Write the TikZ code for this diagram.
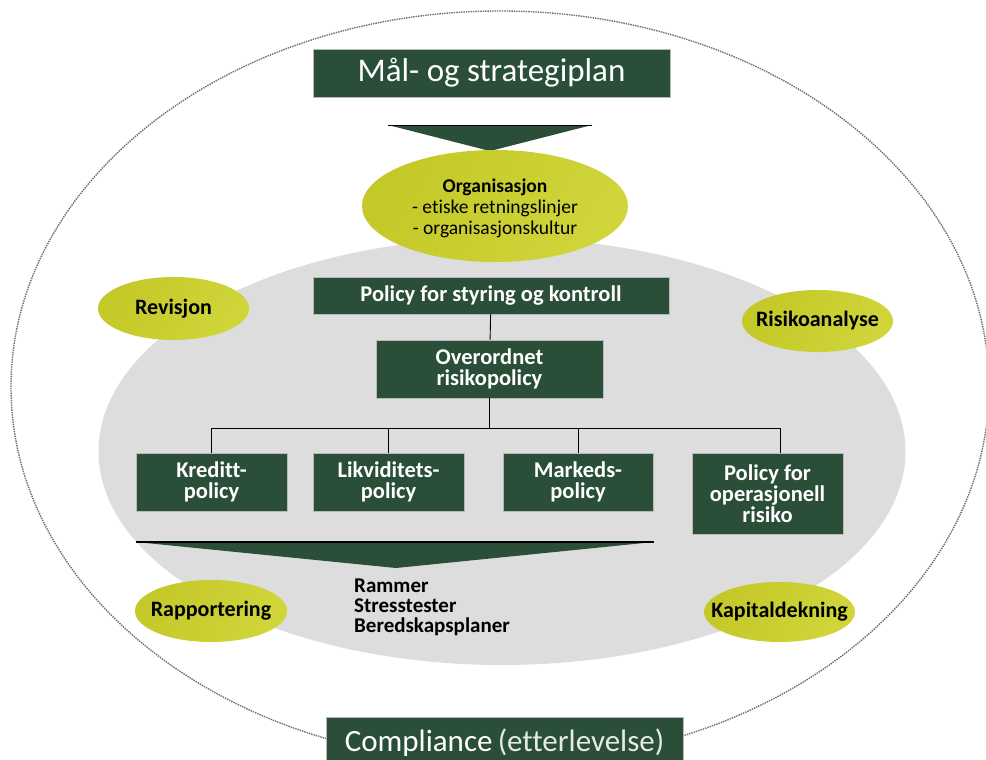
\documentclass[tikz,border=0pt]{standalone}
\usepackage{fontspec}
\setmainfont{Carlito}[Ligatures=NoCommon]
\usetikzlibrary{shapes.geometric}
\definecolor{dkgreen}{RGB}{42,78,56}
\definecolor{lgreenA}{RGB}{196,200,40}
\definecolor{lgreenB}{RGB}{208,213,58}
\definecolor{bggray}{RGB}{221,221,221}
\definecolor{rimgray}{RGB}{110,110,110}
\begin{document}
\begin{tikzpicture}[x=1pt,y=1pt,
  gbox/.style={draw=gray!55,line width=0.6pt,fill=dkgreen,text=white,inner sep=0pt,align=center,
    font=\bfseries\fontsize{22.5}{21}\selectfont},
  blob/.style={ellipse,inner sep=0pt,left color=lgreenA,right color=lgreenB,shading angle=60},
  blobtext/.style={inner sep=0pt,font=\bfseries\fontsize{22}{21}\selectfont,text=black,align=center},
  conn/.style={draw=black,line width=0.9pt},
  chev/.style={fill=dkgreen}
]
\clip (0,0) rectangle (986,-760);
\fill[white] (0,0) rectangle (986,-760);
% outer ellipse
\draw[rimgray,line width=1.4pt,densely dotted] (500,-387) ellipse [x radius=489,y radius=376];
% gray ellipse
\fill[bggray] (502,-451.5) ellipse [x radius=403.5,y radius=213.5];
% top box
\node[gbox,minimum width=357,minimum height=48,font=\fontsize{33}{34}\selectfont] (mal) at (491.5,-73) {Mål- og strategiplan};
% top chevron
\coordinate (t1a) at (388,-125);
\coordinate (t1b) at (592,-125);
\coordinate (t1c) at (490,-151);
\fill[chev] (t1a) -- (t1b) -- (t1c) -- cycle;
\draw[line width=1pt] (t1a) -- (t1b);
% organisation
\node[blob,minimum width=266,minimum height=112] (org) at (495,-206) {};
\node[blobtext,font=\fontsize{19.5}{21}\selectfont] (orgt) at (495,-208)
  {\textbf{Organisasjon}\\- etiske retningslinjer\\- organisasjonskultur};
% policy boxes
\node[gbox,minimum width=356,minimum height=37] (pol) at (491,-295.5) {Policy for styring og kontroll};
\node[gbox,minimum width=227,minimum height=58] (over) at (489.5,-369) {Overordnet\\risikopolicy};
\node[gbox,minimum width=151,minimum height=58] (kred) at (211.5,-482) {Kreditt-\\policy};
\node[gbox,minimum width=151,minimum height=58] (likv) at (388.5,-482) {Likviditets-\\policy};
\node[gbox,minimum width=150,minimum height=58] (mark) at (578,-482) {Markeds-\\policy};
\node[gbox,minimum width=151,minimum height=81] (oper) at (767.5,-493.5) {Policy for\\operasjonell\\risiko};
% connectors
\draw[conn] (pol) -- (over);
\draw[conn] (over.south) -- ++(0,-30) coordinate (bus);
\coordinate (operin) at ([xshift=12.5]oper.north);
\draw[conn] (bus) -| (kred);
\draw[conn] (bus) -| (likv);
\draw[conn] (bus) -| (mark);
\draw[conn] (bus) -| (operin);
% bottom chevron
\coordinate (t2a) at (136,-542);
\coordinate (t2b) at (654,-542);
\coordinate (t2c) at (396,-568);
\fill[chev] (t2a) -- (t2b) -- (t2c) -- cycle;
\draw[line width=1.2pt] (t2a) -- (t2b);
% text
\node[anchor=west,align=left,font=\bfseries\fontsize{21}{20}\selectfont,inner sep=0pt] (ram) at (354,-607)
  {Rammer\\Stresstester\\Beredskapsplaner};
% green ellipses
\node[blob,minimum width=151,minimum height=63] (rev) at (173.5,-308.5) {};
\node[blobtext] (revt) at (rev) {Revisjon};
\node[blob,minimum width=151,minimum height=62] (risk) at (817.5,-321) {};
\node[blobtext] (riskt) at (risk) {Risikoanalyse};
\node[blob,minimum width=152,minimum height=62] (rap) at (211,-611) {};
\node[blobtext] (rapt) at (rap) {Rapportering};
\node[blob,minimum width=151,minimum height=60] (kap) at (779.5,-612) {};
\node[blobtext] (kapt) at (kap) {Kapitaldekning};
% compliance
\node[gbox,minimum width=357,minimum height=52,font=\fontsize{31}{32}\selectfont] (comp) at (504.5,-743)
  {Compliance\,{\color{white!88!dkgreen}(etterlevelse)}};
\end{tikzpicture}
\end{document}
